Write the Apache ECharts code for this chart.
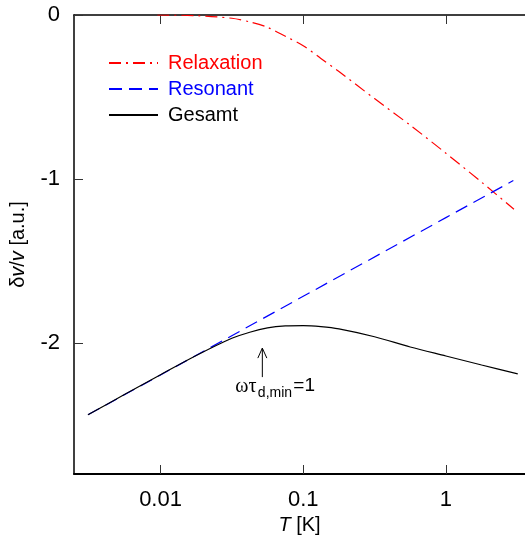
<!DOCTYPE html>
<html>
<head>
<meta charset="utf-8">
<script src="https://cdn.jsdelivr.net/npm/echarts@6/dist/echarts.min.js"></script>
<style>
  html, body { margin: 0; padding: 0; background: #fff; }
  #chart { width: 525px; height: 547px; }
</style>
</head>
<body>
<div id="chart"></div>
<script>
// Temperature (K) and sound-velocity shift contributions (a.u.)
const tRelax = [0.0095, 0.0178, 0.0316, 0.0422, 0.0562, 0.075, 0.1, 0.133, 0.178, 0.316, 0.562, 1.0, 1.78, 3.0];
const relaxation = [0, -0.004, -0.02, -0.042, -0.075, -0.13, -0.187, -0.265, -0.345, -0.51, -0.672, -0.843, -1.02, -1.185];

const tReso = [0.0031, 0.01, 0.1, 1, 2.97];
const resonant = [-2.439, -2.196, -1.716, -1.236, -1.010];

const tTotal = [0.0031, 0.00562, 0.01, 0.0178, 0.0316, 0.0422, 0.0562, 0.075, 0.1, 0.133, 0.178, 0.316, 0.562, 1.0, 1.78, 3.19];
const total = [-2.439, -2.314, -2.194, -2.077, -1.972, -1.935, -1.909, -1.897, -1.895, -1.901, -1.915, -1.963, -2.025, -2.080, -2.135, -2.189];

const xTicks = [0.01, 0.1, 1];
const xTickLabels = ['0.01', '0.1', '1'];
const yTicks = [-2, -1, 0];

// Position of the ωτ = 1 marker below the total curve
const markerT = 0.0517;
const markerTip = -2.032;

const FONT = '"Liberation Sans", Arial, sans-serif';
const SERIF = '"Liberation Serif", "Times New Roman", serif';

const pairs = (xs, ys) => xs.map((x, i) => [x, ys[i]]);
const xLabel = v => {
  const i = xTicks.findIndex(t => Math.abs(Math.log10(t) - Math.log10(v)) < 1e-6);
  return i >= 0 ? xTickLabels[i] : '';
};

const xMin = 0.002474;
const xMax = 3.585;

const chart = echarts.init(document.getElementById('chart'), null, { renderer: 'canvas' });

const tickStyle = { color: '#333', width: 1 };

chart.setOption({
  animation: false,
  backgroundColor: '#fff',
  grid: { left: 73, top: 15, right: 0, height: 459, containLabel: false },
  legend: {
    orient: 'vertical',
    left: 108,
    top: 53,
    padding: 0,
    itemWidth: 49,
    itemHeight: 14,
    itemGap: 6,
    itemStyle: { opacity: 0 },
    textStyle: { fontSize: 20, fontFamily: FONT, lineHeight: 20, padding: [0, 0, 0, 5] },
    data: [
      { name: 'Relaxation', textStyle: { color: '#ff0000' } },
      { name: 'Resonant', textStyle: { color: '#0000ff' } },
      { name: 'Gesamt', textStyle: { color: '#000000' } }
    ]
  },
  xAxis: [
    {
      type: 'log',
      logBase: 10,
      min: xMin,
      max: xMax,
      position: 'bottom',
      axisLine: { show: true, onZero: false, lineStyle: { color: '#000', width: 2 } },
      axisTick: { show: true, inside: true, length: 9, customValues: xTicks, lineStyle: tickStyle },
      axisLabel: { show: true, customValues: xTicks, formatter: xLabel, fontSize: 22, fontFamily: FONT, color: '#000', margin: 15 },
      minorTick: { show: false },
      splitLine: { show: false },
      name: '{i|T} [K]',
      nameLocation: 'middle',
      nameGap: 40,
      nameTextStyle: {
        fontSize: 20, fontFamily: FONT, color: '#000',
        rich: { i: { fontStyle: 'italic', fontSize: 20, fontFamily: FONT, color: '#000' } }
      }
    },
    {
      type: 'log',
      logBase: 10,
      min: xMin,
      max: xMax,
      position: 'top',
      axisLine: { show: true, onZero: false, lineStyle: { color: '#000', width: 1.5 } },
      axisTick: { show: true, inside: true, length: 9, customValues: xTicks, lineStyle: tickStyle },
      axisLabel: { show: false },
      minorTick: { show: false },
      splitLine: { show: false }
    }
  ],
  yAxis: {
    type: 'value',
    min: -2.8,
    max: 0,
    axisLine: { show: true, onZero: false, lineStyle: { color: '#000', width: 1.5 } },
    axisTick: { show: true, inside: true, length: 9, customValues: yTicks, lineStyle: tickStyle },
    axisLabel: { show: true, customValues: yTicks, fontSize: 22, fontFamily: FONT, color: '#000', margin: 14 },
    splitLine: { show: false },
    name: 'δ{i|v}/{i|v} [a.u.]',
    nameLocation: 'middle',
    nameRotate: 90,
    nameGap: 46,
    nameTextStyle: {
      fontSize: 20, fontFamily: FONT, color: '#000',
      rich: { i: { fontStyle: 'italic', fontSize: 20, fontFamily: FONT, color: '#000' } }
    }
  },
  series: [
    {
      name: 'Relaxation',
      type: 'line',
      data: pairs(tRelax, relaxation),
      showSymbol: false,
      symbol: 'none',
      smooth: 0.3,
      color: '#ff0000',
      lineStyle: { color: '#ff0000', width: 1.2, type: [12, 5, 2, 5] }
    },
    {
      name: 'Resonant',
      type: 'line',
      data: pairs(tReso, resonant),
      showSymbol: false,
      symbol: 'none',
      color: '#0000ff',
      lineStyle: { color: '#0000ff', width: 1.2, type: [13, 7] }
    },
    {
      name: 'Gesamt',
      type: 'line',
      data: pairs(tTotal, total),
      showSymbol: false,
      symbol: 'none',
      smooth: 0.3,
      color: '#000000',
      lineStyle: { color: '#000000', width: 1.2 }
    }
  ]
});

// Arrow and label marking ωτ_d,min = 1, anchored through the axis scales
const tip = chart.convertToPixel({ xAxisIndex: 0, yAxisIndex: 0 }, [markerT, markerTip]);
const tx = tip[0], ty = tip[1];
chart.setOption({
  graphic: [
    { type: 'line', silent: true, shape: { x1: tx, y1: ty, x2: tx, y2: ty + 29 }, style: { stroke: '#000', lineWidth: 1 } },
    { type: 'polyline', silent: true, shape: { points: [[tx - 4.5, ty + 10], [tx, ty], [tx + 4.5, ty + 10]] }, style: { stroke: '#000', lineWidth: 1, fill: null } },
    { type: 'text', silent: true, x: tx - 27, y: ty + 38.5, style: { text: 'ωτ', fontSize: 20, fontFamily: SERIF, fill: '#000', align: 'left', verticalAlign: 'middle' } },
    { type: 'text', silent: true, x: tx - 4.5, y: ty + 45, style: { text: 'd,min', fontSize: 14, fontFamily: FONT, fill: '#000', align: 'left', verticalAlign: 'middle' } },
    { type: 'text', silent: true, x: tx + 31, y: ty + 38, style: { text: '=1', fontSize: 19, fontFamily: FONT, fill: '#000', align: 'left', verticalAlign: 'middle' } }
  ]
});
</script>
</body>
</html>
